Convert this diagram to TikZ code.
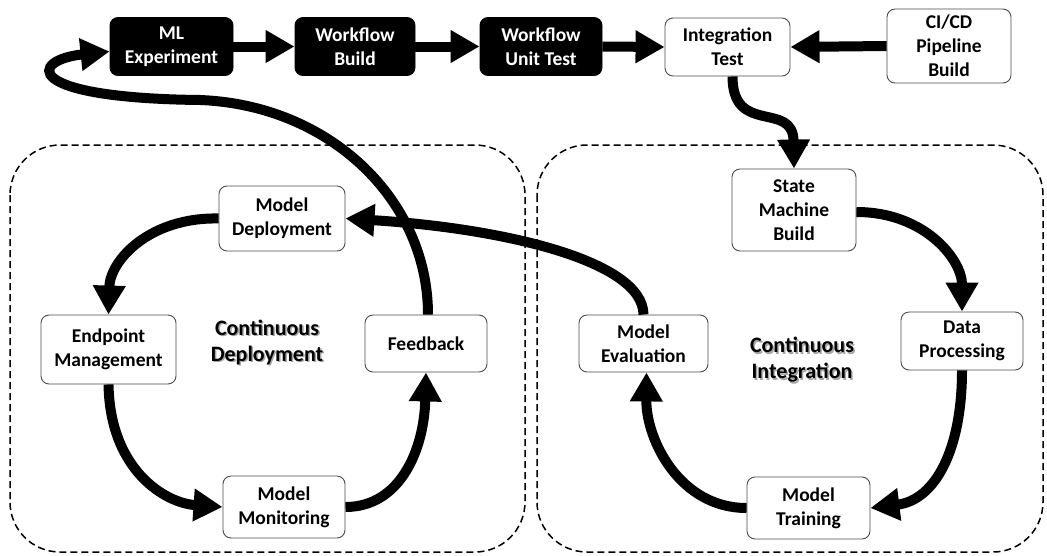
\documentclass[tikz,border=0pt]{standalone}
\usepackage{fontspec}
\setmainfont{Carlito}
\usetikzlibrary{arrows.meta}

\begin{document}
\begin{tikzpicture}[x=1pt,y=-1pt,
  box/.style={draw=black!70, line width=0.9pt, rounded corners=8pt, fill=white,
    align=center, inner sep=0pt, font=\bfseries\fontsize{19.5}{24}\selectfont},
  darkbox/.style={box, fill=black, draw=black, text=white},
  flow/.style={line width=10pt, -{Triangle[length=29pt,width=31pt]}},
  zone/.style={draw=black, line width=1.5pt, dash pattern=on 7pt off 4pt, rounded corners=50pt},
  title/.style={align=center, inner sep=0pt, font=\bfseries\fontsize{22}{26}\selectfont},
  shade/.style={title, text=black!35}
]
% canvas
\fill[white] (0,0) rectangle (1047,555);
\useasboundingbox (0,0) rectangle (1047,555);

% the two cycles
\draw[zone] (10,145) rectangle (525,552);
\draw[zone] (537,145) rectangle (1043,552);

% build chain
\node[darkbox, minimum width=123pt, minimum height=58pt] (ml)   at (171.5,46.5) {ML\\Experiment};
\node[darkbox, minimum width=120pt, minimum height=58pt] (wb)   at (355,46.5)   {Workflow\\Build};
\node[darkbox, minimum width=122pt, minimum height=58pt] (wut)  at (541,46.5)   {Workflow\\Unit Test};
\node[box, minimum width=125pt, minimum height=58pt]     (it)   at (727.5,47)   {Integration\\Test};
\node[box, minimum width=124pt, minimum height=74pt]     (cicd) at (949,46)     {CI/CD\\Pipeline\\Build};

% continuous integration
\node[box, minimum width=124pt, minimum height=82pt] (sm) at (794,210)    {State\\Machine\\Build};
\node[box, minimum width=122pt, minimum height=58pt] (dp) at (962,341)    {Data\\Processing};
\node[box, minimum width=123pt, minimum height=62pt] (mt) at (808.5,508)  {Model\\Training};
\node[box, minimum width=129pt, minimum height=57pt] (me) at (643.5,343.5){Model\\Evaluation};

% continuous deployment
\node[box, minimum width=126pt, minimum height=65pt] (md) at (282,218.5)  {Model\\Deployment};
\node[box, minimum width=135pt, minimum height=69pt] (em) at (108.5,349.5){Endpoint\\Management};
\node[box, minimum width=122pt, minimum height=57pt] (fb) at (426,343.5)  {Feedback};
\node[box, minimum width=122pt, minimum height=62pt] (mm) at (284,507)    {Model\\Monitoring};

% cycle titles with a soft drop shadow
\node[shade] at (268.5,343.5) {Continuous\\Deployment};
\node[title] (cdt) at (267,342) {Continuous\\Deployment};
\node[shade] at (803.5,361.5) {Continuous\\Integration};
\node[title] (cit) at (802,360) {Continuous\\Integration};

% straight links
\draw[flow] (ml.east) -- (wb.west);
\draw[flow] (wb.east) -- (wut.west);
\draw[flow] (wut.east) -- (it.west);
\draw[flow] (cicd.west) -- (it.east);

% integration cycle
\draw[flow] ([xshift=5pt]it.south) .. controls +(0,60) and (793,100) .. (sm.north);
\draw[flow] ([yshift=-2pt]sm.east) .. controls (925,212) and (962,260) .. (dp.north);
\draw[flow] (dp.south) .. controls (962,450) and (935,500) .. (mt.east);
\draw[flow] (mt.west) .. controls (680,508) and (646,440) .. ([xshift=3pt]me.south);
\draw[flow] (me.north) .. controls (643,260) and (500,228) .. (md.east);

% deployment cycle
\draw[flow] (md.west) .. controls (150,217) and (110,260) .. (em.north);
\draw[flow] (em.south) .. controls (110,470) and (165,503) .. (mm.west);
\draw[flow] (mm.east) .. controls (400,507) and (424,450) .. (fb.south);
\draw[flow] ([xshift=2pt]fb.north) .. controls (428,200) and (330,105) .. (200,100)
  .. controls (20,98) and (30,60) .. ([yshift=-5pt]ml.west);
\end{tikzpicture}
\end{document}
